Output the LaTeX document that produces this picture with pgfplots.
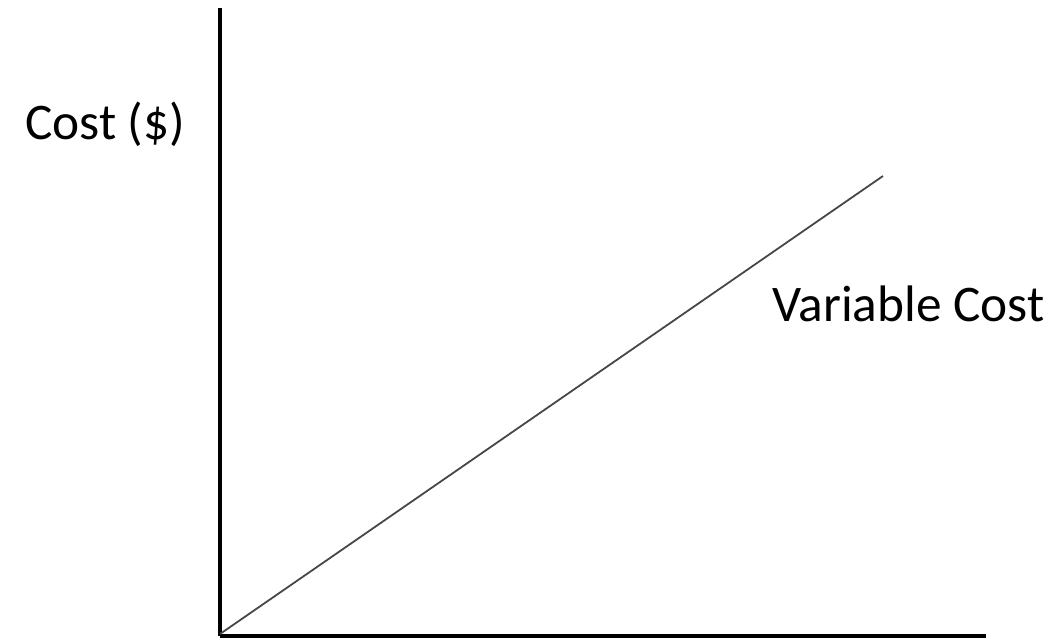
\documentclass[border=0pt]{standalone}
\usepackage{pgfplots}
\pgfplotsset{compat=1.18}
\usepackage{fontspec}
\setmainfont{Carlito}
\begin{document}
\begin{tikzpicture}
\begin{axis}[
  scale only axis,
  width=574.5pt, height=471pt,
  xmin=220, xmax=986, ymin=4, ymax=632,
  axis x line*=bottom, axis y line*=left,
  axis line style={line width=2.4pt, -, black},
  ticks=none,
  clip=false,
]
\addplot[black!72, line width=1.35pt] coordinates {(220,6) (883,464)};
\draw[draw=none] (axis cs:0,0) rectangle (axis cs:1057,640);
\node[anchor=base west, inner sep=0pt, font=\fontsize{38.5}{42}\selectfont] at (axis cs:25,500) {Cost (\$)};
\node[anchor=base west, inner sep=0pt, font=\fontsize{38.5}{42}\selectfont] at (axis cs:772,318) {Variable Cost};
\end{axis}
\end{tikzpicture}
\end{document}
